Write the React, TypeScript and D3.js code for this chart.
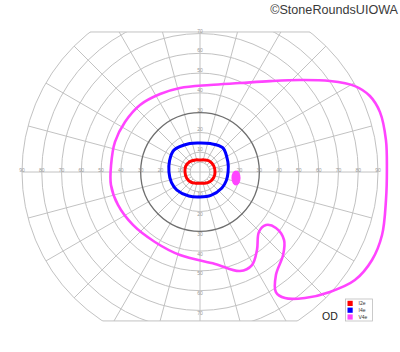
import React from 'react';
import * as d3 from 'd3';

// Grid (degrees of eccentricity)
const rings = [10, 20, 30, 40, 50, 60, 70, 80, 90];
const innerRing = 5;
const meridians = [0, 15, 30, 45, 60, 75, 90, 105, 120, 135, 150, 165, 180, 195, 210, 225, 240, 255, 270, 285, 300, 315, 330, 345];
const horizontalTickLabels = ['10', '20', '30', '40', '50', '60', '70', '80', '90'];
const verticalTickLabels = ['10', '20', '30', '40', '50', '60', '70'];
const upperLimit = 70.8; // field cut-off above fixation (deg)
const lowerLimit = 75.3; // field cut-off below fixation (deg)

// Isopters: [azimuth deg (0 = right, counter-clockwise), eccentricity deg]
const i2e: [number, number][] = [
  [0, 7.6], [25, 7.6], [50, 7.3], [70, 6.5], [90, 6.1], [110, 6.5], [135, 7.4], [158, 7.8],
  [180, 7.6], [205, 7.4], [228, 6.9], [248, 6.1], [270, 5.7], [292, 6.1], [315, 7.0], [338, 7.5],
];
const i4e: [number, number][] = [
  [0, 14.2], [20, 15.0], [47, 16.8], [70, 15.3], [90, 14.7], [110, 15.3], [140, 17.2], [160, 16.4],
  [180, 15.7], [200, 15.4], [218, 14.8], [245, 13.4], [270, 12.6], [295, 13.0], [324, 13.7], [342, 14.0],
];
const v4e: [number, number][] = [
  [175.5, 45.1], [160.5, 45.6], [146.3, 45.6], [131.8, 45.5], [117.1, 44.3], [103.4, 43.7],
  [83.4, 44.3], [65.8, 49.3], [52.4, 58.0], [42.6, 68.7], [35.0, 80.2], [29.0, 89.6],
  [24.1, 94.1], [18.4, 95.9], [9.8, 95.4], [0.6, 94.5], [351.4, 95.1], [340.9, 97.4],
  [332.9, 97.7], [325.1, 95.5], [317.3, 89.4], [309.8, 82.9], [304.0, 76.9], [302.3, 71.8],
  [306.4, 64.7], [315.0, 59.4], [321.0, 54.7], [323.6, 47.7], [321.2, 42.8], [314.5, 42.5],
  [306.2, 48.8], [299.2, 53.9], [292.0, 54.0], [279.3, 47.1], [256.5, 43.2], [237.2, 42.1],
  [218.3, 43.2], [201.9, 44.7], [188.3, 45.5],
];
// Blind spot (V4e scotoma): centre in degrees (horizontal, vertical) and half-sizes
const blindSpotCenter = [18.2, -3.0];
const blindSpotHalfSize = [2.3, 3.8];

const legendNames = ['I2e', 'I4e', 'V4e'];
const legendColors = ['#ff0000', '#0000ff', '#ff44ff'];
const eyeLabel = 'OD';
const copyright = '©StoneRoundsUIOWA';

const W = 400;
const H = 352;
const CX = 200;
const CY = 172;

export default function App() {
  const r = d3.scaleLinear().domain([0, 90]).range([0, 178]);
  const R = r(90);
  const yTop = CY - r(upperLimit);
  const yBot = CY + r(lowerLimit);

  const radial = (data: [number, number][]) =>
    d3
      .lineRadial<[number, number]>()
      .angle((d) => ((90 - d[0]) * Math.PI) / 180)
      .radius((d) => r(d[1]))
      .curve(d3.curveCatmullRomClosed.alpha(0.5))(data) || '';

  const chordTop = Math.sqrt(R * R - (CY - yTop) ** 2);
  const chordBot = Math.sqrt(R * R - (yBot - CY) ** 2);

  return (
    <svg
      width={W}
      height={H}
      viewBox={`0 0 ${W} ${H}`}
      style={{ position: 'fixed', left: 0, top: 0, background: '#fff' }}
      fontFamily="'Liberation Sans', Arial, sans-serif"
    >
      <defs>
        <clipPath id="fieldClip">
          <rect x={0} y={yTop} width={W} height={yBot - yTop} />
        </clipPath>
        <clipPath id="circClip">
          <circle cx={CX} cy={CY} r={R} />
        </clipPath>
      </defs>
      <g clipPath="url(#fieldClip)">
        <g clipPath="url(#circClip)">
          {meridians.map((a) => {
            const start = a % 90 === 0 ? 0 : r(innerRing);
            const c = Math.cos((a * Math.PI) / 180);
            const s = Math.sin((a * Math.PI) / 180);
            return (
              <line
                key={a}
                x1={CX + start * c}
                y1={CY - start * s}
                x2={CX + (R + 5) * c}
                y2={CY - (R + 5) * s}
                stroke="#c2c2c2"
                strokeWidth={1}
              />
            );
          })}
        </g>
        <circle cx={CX} cy={CY} r={r(innerRing)} fill="none" stroke="#c2c2c2" strokeWidth={1} />
        {rings.map((d) => (
          <circle
            key={d}
            cx={CX}
            cy={CY}
            r={r(d)}
            fill="none"
            stroke={d === 30 ? '#6e6e6e' : '#c2c2c2'}
            strokeWidth={d === 30 ? 1.3 : 1}
          />
        ))}
      </g>
      <line x1={CX - chordTop} x2={CX + chordTop} y1={yTop} y2={yTop} stroke="#c2c2c2" />
      <line x1={CX - chordBot} x2={CX + chordBot} y1={yBot} y2={yBot} stroke="#c2c2c2" />

      <g fontSize={5} fill="#9a9a9a" textAnchor="middle">
        {horizontalTickLabels.map((t, i) => (
          <g key={'h' + t}>
            <text x={CX - r(rings[i])} y={CY - 0.5}>{t}</text>
            <text x={CX + r(rings[i])} y={CY - 0.5}>{t}</text>
          </g>
        ))}
        {verticalTickLabels.map((t, i) => (
          <g key={'v' + t}>
            <text x={CX} y={CY - r(rings[i]) - 1}>{t}</text>
            <text x={CX} y={CY + r(rings[i]) + 4.5}>{t}</text>
          </g>
        ))}
      </g>

      <g transform={`translate(${CX},${CY})`} fill="none" strokeLinejoin="round">
        <path d={radial(v4e)} stroke={legendColors[2]} strokeWidth={2.6} />
        <ellipse
          cx={r(blindSpotCenter[0])}
          cy={-r(blindSpotCenter[1])}
          rx={r(blindSpotHalfSize[0])}
          ry={r(blindSpotHalfSize[1])}
          fill={legendColors[2]}
        />
        <path d={radial(i4e)} stroke={legendColors[1]} strokeWidth={3} />
        <path d={radial(i2e)} stroke={legendColors[0]} strokeWidth={3} />
      </g>

      <text x={322} y={320} fontSize={10.5} fill="#222">{eyeLabel}</text>
      <g>
        <rect x={345.5} y={299} width={27} height={22} fill="#fff" stroke="#bdbdbd" strokeWidth={0.8} />
        {legendNames.map((n, i) => (
          <g key={n}>
            <rect x={347.5} y={300.8 + i * 6.8} width={5.2} height={5.2} fill={legendColors[i]} />
            <text x={358.5} y={305.3 + i * 6.8} fontSize={5} fill="#333">{n}</text>
          </g>
        ))}
      </g>
      <text x={398} y={13.5} fontSize={12.6} textAnchor="end" fill="#3a3a3a">{copyright}</text>
    </svg>
  );
}
